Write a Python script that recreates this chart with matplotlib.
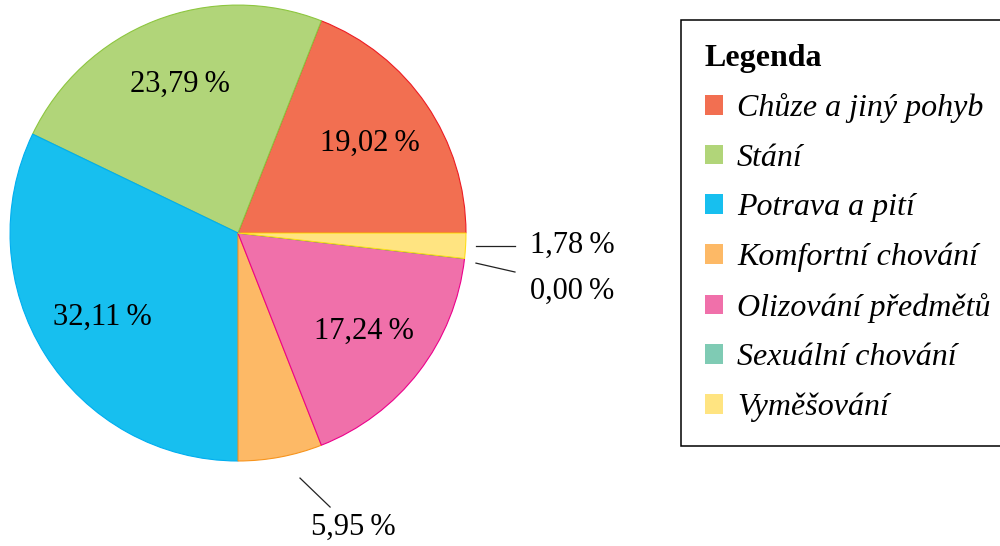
import matplotlib
matplotlib.use("Agg")
import matplotlib.pyplot as plt
from matplotlib.patches import Patch
import numpy as np

plt.rcParams['font.family'] = ['Liberation Serif', 'DejaVu Serif']

# Podíly jednotlivých projevů chování (v %)
categories = ["Chůze a jiný pohyb", "Stání", "Potrava a pití", "Komfortní chování",
              "Olizování předmětů", "Sexuální chování", "Vyměšování"]
values = [19.02, 23.79, 32.11, 5.95, 17.24, 0.00, 1.78]
fill_colors = ["#F26F51", "#B1D579", "#17BFEF", "#FDB966", "#F070AA", "#7FCBB4", "#FFE481"]
edge_colors = ["#ED1C24", "#8DC63F", "#00AEEF", "#F7941D", "#EC008C", "#00A99D", "#FFDE17"]


def fmt(v):
    return f"{v:.2f}".replace(".", ",") + "\u2009%"


fig = plt.figure(figsize=(10, 5.46), dpi=100)
ax = fig.add_axes([0.010, 0.1557, 0.456, 0.835])

wedges, _ = ax.pie(values, colors=fill_colors, startangle=0, counterclock=True,
                   radius=1.0, wedgeprops=dict(linewidth=0.8))
for w, ec in zip(wedges, edge_colors):
    w.set_edgecolor(ec)

ax.set_xlim(-1, 1)
ax.set_ylim(-1, 1)
ax.set_aspect("equal")
ax.axis("off")

# středové úhly výsečí
bounds = np.concatenate([[0], np.cumsum(values)]) / 100.0 * 360.0
mids = (bounds[:-1] + bounds[1:]) / 2

# popisky uvnitř velkých výsečí
for i, v in enumerate(values):
    if v < 10:
        continue
    a = np.deg2rad(mids[i])
    ax.text(0.70 * np.cos(a), 0.70 * np.sin(a), fmt(v), ha="center", va="center",
            fontsize=22)

# popisky malých výsečí s odkazovou čarou
lc = "#222222"
ax.plot([1.044, 1.215], [-0.057, -0.057], color=lc, lw=0.9, clip_on=False)
ax.text(1.28, -0.053, fmt(values[6]), ha="left", va="center", fontsize=22)

ax.plot([1.044, 1.215], [-0.132, -0.171], color=lc, lw=0.9, clip_on=False)
ax.text(1.28, -0.254, fmt(values[5]), ha="left", va="center", fontsize=22)

ax.plot([0.272, 0.404], [-1.075, -1.202], color=lc, lw=0.9, clip_on=False)
ax.text(0.504, -1.29, fmt(values[3]), ha="center", va="center", fontsize=22)

handles = [Patch(facecolor=c, edgecolor="none") for c in fill_colors]
leg = fig.legend(handles, categories, loc="upper left",
                 bbox_to_anchor=(0.681, 1 - 20 / 546), borderaxespad=0,
                 title="Legenda", alignment="left", fancybox=False,
                 edgecolor="black", framealpha=1, fontsize=23,
                 handlelength=0.56, handleheight=0.56, handletextpad=0.44,
                 labelspacing=0.64, borderpad=0.75)
leg.get_title().set_fontweight("bold")
leg.get_title().set_fontsize(23)
leg.get_frame().set_linewidth(1.1)
for t in leg.get_texts():
    t.set_fontstyle("italic")

fig.savefig("out.png", dpi=100)
